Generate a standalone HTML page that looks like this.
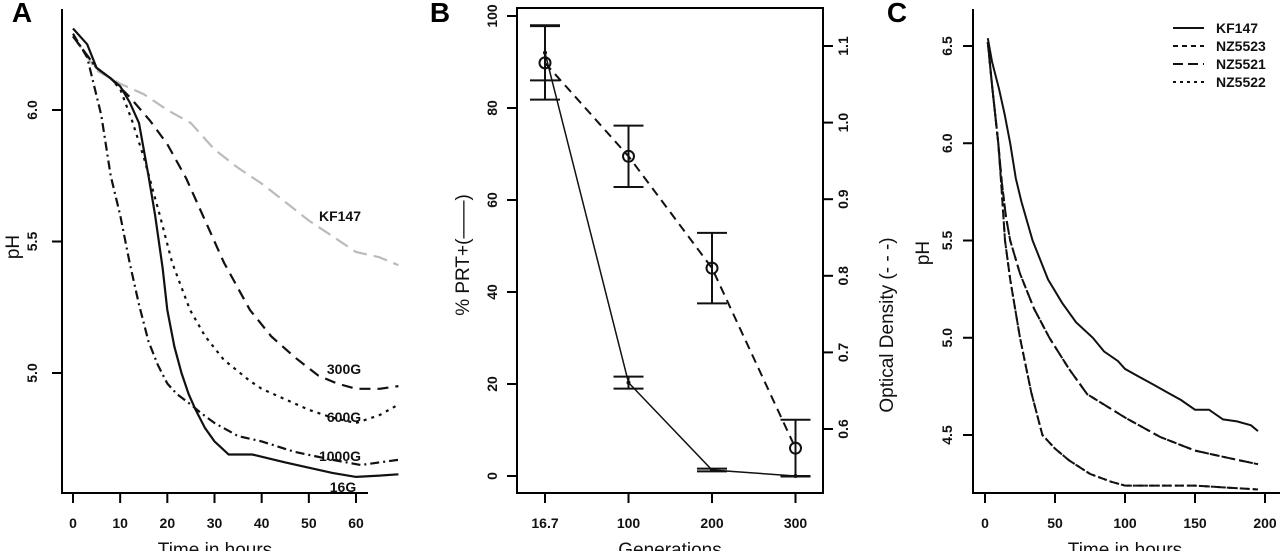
<!DOCTYPE html>
<html><head><meta charset="utf-8"><style>
html,body{margin:0;padding:0;background:#fff;}
svg{display:block;font-family:"Liberation Sans",Arial,sans-serif;}
.tk{font-size:14px;font-weight:bold;fill:#111;}
.tt{font-size:19px;fill:#111;}
.lb{font-size:14px;font-weight:bold;fill:#111;}
.pl{font-size:28px;font-weight:bold;fill:#000;}
</style></head><body>
<svg id="fig" width="1280" height="551" viewBox="0 0 1280 551" xmlns="http://www.w3.org/2000/svg"></svg>
<script>
// ---------- Panel A data ----------
const aTicksX = [0,10,20,30,40,50,60];
const aTicksY = [5.0,5.5,6.0];
const aKF147T = [0,5,10,15,20,25,30,35,40,45,50,55,60,65,69];
const aKF147V = [6.28,6.15,6.1,6.06,6.0,5.95,5.85,5.78,5.72,5.65,5.58,5.52,5.46,5.44,5.41];
const a300T = [0,5,8,12,16.3,20,24,28,32,37.5,42,47,52,56,60,65,69];
const a300V = [6.28,6.16,6.12,6.05,5.96,5.87,5.74,5.58,5.42,5.24,5.14,5.06,4.99,4.96,4.94,4.94,4.95];
const a600T = [0,5,8,10,12.5,15,18.4,21,24.8,28,32,37.5,40,45,50,55,60,65,69];
const a600V = [6.28,6.16,6.12,6.08,5.96,5.82,5.6,5.42,5.24,5.14,5.05,4.97,4.94,4.9,4.86,4.83,4.81,4.84,4.88];
const a1000T = [0,3,6,8,10,12,14,16,18,20,22,25,27,30,35,40,47,55,61,65,69];
const a1000V = [6.29,6.2,5.98,5.75,5.6,5.42,5.26,5.12,5.03,4.96,4.92,4.88,4.85,4.81,4.76,4.74,4.7,4.67,4.65,4.66,4.67];
const a16T = [0,3,5,8,10,12,14,16,17.4,19,20,21.5,23,24.5,26,28,30,33,38,45,50,55,60,65,69];
const a16V = [6.31,6.25,6.16,6.12,6.09,6.03,5.95,5.75,5.6,5.4,5.24,5.1,5.0,4.92,4.86,4.79,4.74,4.69,4.69,4.66,4.64,4.62,4.605,4.61,4.615];
// ---------- Panel B data ----------
const bCats = ["16.7","100","200","300"];
const bPRT = [92,20.3,1.3,0];
const bPRTErr = [6,1.3,0.3,0];
const bOD = [1.078,0.956,0.81,0.575];
const bODErr = [0.048,0.04,0.046,0.037];
const bTicksL = [0,20,40,60,80,100];
const bTicksR = [0.6,0.7,0.8,0.9,1.0,1.1];
// ---------- Panel C data ----------
const cTicksX = [0,50,100,150,200];
const cTicksY = [4.5,5.0,5.5,6.0,6.5];
const cKFT = [2,5,10,14,18,22,26,34,45,55,65,77,85,95,100,110,120,130,140,150,160,170,180,190,195];
const cKFV = [6.54,6.42,6.28,6.15,6.0,5.82,5.7,5.5,5.3,5.18,5.08,5.0,4.93,4.88,4.84,4.8,4.76,4.72,4.68,4.63,4.63,4.58,4.57,4.55,4.52];
const cMidT = [2,5,9.5,12,15,18,25,35,46,60,73,100,125,150,175,195];
const cMidV = [6.52,6.3,6.0,5.8,5.62,5.5,5.33,5.15,5.0,4.84,4.71,4.59,4.49,4.42,4.38,4.35];
const cLowT = [2,5,9.5,12,14.3,18,25,33,41,50,60,75,90,100,150,195];
const cLowV = [6.52,6.3,6.0,5.75,5.5,5.3,5.0,4.72,4.5,4.43,4.37,4.3,4.26,4.24,4.24,4.22];

const NS="http://www.w3.org/2000/svg";
const svg=document.getElementById('fig');
function mk(tag,attrs,parent){const e=document.createElementNS(NS,tag);for(const k in attrs)e.setAttribute(k,attrs[k]);(parent||svg).appendChild(e);return e;}
function txt(s,x,y,cls,extra){const t=mk('text',Object.assign({x:x,y:y,'class':cls,'text-anchor':'middle'},extra||{}));t.textContent=s;return t;}
function path(xs,ys,sx,sy){return xs.map((v,i)=>(i?'L':'M')+sx(v).toFixed(1)+','+sy(ys[i]).toFixed(1)).join(' ');}

// ===== Panel A =====
const ax=t=>73+t*(356-73)/60;
const ay=p=>110+(6-p)*263;
let e;
e=txt('A',22,22,'pl');

e=mk('path',{d:'M62,9 V493 H368',fill:'none',stroke:'#000','stroke-width':2});

aTicksX.forEach(t=>{mk('line',{x1:ax(t),x2:ax(t),y1:493,y2:503,stroke:'#000','stroke-width':2});
 e=txt(String(t),ax(t),528,'tk');});
aTicksY.forEach(p=>{mk('line',{x1:52,x2:62,y1:ay(p),y2:ay(p),stroke:'#000','stroke-width':2});
 e=txt(p.toFixed(1),0,0,'tk',{transform:`translate(37,${ay(p)}) rotate(-90)`});});
e=txt('pH',0,0,'tt',{transform:'translate(19,247) rotate(-90)'});

e=txt('Time in hours',215,556,'tt');

const aSeries=[[aKF147T,aKF147V,'#bbb','14,7','kf147-line'],[a300T,a300V,'#111','11,7','300g-line'],[a600T,a600V,'#111','3,5','600g-line'],[a1000T,a1000V,'#111','9,4,2,4','1000g-line'],[a16T,a16V,'#111','none','16g-line']];
aSeries.forEach(s=>{e=mk('path',{d:path(s[0],s[1],ax,ay),fill:'none',stroke:s[2],'stroke-width':2.2,'stroke-dasharray':s[3]});
 });
[['KF147',340,221],['300G',344,374],['600G',344,422],['1000G',340,461],['16G',343,492]].forEach(l=>{
 e=txt(l[0],l[1],l[2],'lb');});

// ===== Panel B =====
const bx=i=>545+i*83.5;
const byL=v=>476-v*4.6;
const byR=v=>46+(1.1-v)*766;
e=txt('B',440,22,'pl');

e=mk('rect',{x:517,y:8,width:306,height:485,fill:'none',stroke:'#000','stroke-width':2});

bCats.forEach((c,i)=>{mk('line',{x1:bx(i),x2:bx(i),y1:493,y2:503,stroke:'#000','stroke-width':2});
 e=txt(c,bx(i),528,'tk');});
bTicksL.forEach(v=>{mk('line',{x1:507,x2:517,y1:byL(v),y2:byL(v),stroke:'#000','stroke-width':2});
 e=txt(String(v),0,0,'tk',{transform:`translate(497,${byL(v)}) rotate(-90)`});});
bTicksR.forEach(v=>{mk('line',{x1:823,x2:833,y1:byR(v),y2:byR(v),stroke:'#000','stroke-width':2});
 e=txt(v.toFixed(1),0,0,'tk',{transform:`translate(848,${byR(v)}) rotate(-90)`});});
e=txt('% PRT+(——)',0,0,'tt',{transform:'translate(469,255) rotate(-90)'});

e=txt('Optical Density (- - -)',0,0,'tt',{transform:'translate(893,325) rotate(-90)'});

e=txt('Generations',670,556,'tt');

e=mk('path',{d:bOD.map((v,i)=>(i?'L':'M')+bx(i)+','+byR(v).toFixed(1)).join(' '),fill:'none',stroke:'#111','stroke-width':2,'stroke-dasharray':'9,6'});

e=mk('path',{d:bPRT.map((v,i)=>(i?'L':'M')+bx(i)+','+byL(v).toFixed(1)).join(' '),fill:'none',stroke:'#111','stroke-width':1.5});

bOD.forEach((v,i)=>{const x=bx(i),y1=byR(v+bODErr[i]),y2=byR(v-bODErr[i]);
 e=mk('path',{d:`M${x-15},${y1} H${x+15} M${x},${y1} V${y2} M${x-15},${y2} H${x+15}`,stroke:'#111','stroke-width':2,fill:'none'});
 
 e=mk('circle',{cx:x,cy:byR(v),r:5.5,fill:'none',stroke:'#111','stroke-width':2});
 });
bPRT.forEach((v,i)=>{const x=bx(i),y1=byL(v+bPRTErr[i]),y2=byL(v-bPRTErr[i]);
 e=mk('path',{d:`M${x-15},${y1} H${x+15} M${x},${y1} V${y2} M${x-15},${y2} H${x+15}`,stroke:'#111','stroke-width':2,fill:'none'});
 
 e=mk('circle',{cx:x,cy:byL(v),r:2,fill:'#111'});
 });

// ===== Panel C =====
const cx=t=>985+t*1.4;
const cy=p=>46+(6.5-p)*194.5;
e=txt('C',897,22,'pl');

e=mk('path',{d:'M973,9 V493 H1280',fill:'none',stroke:'#000','stroke-width':2});

cTicksX.forEach(t=>{mk('line',{x1:cx(t),x2:cx(t),y1:493,y2:503,stroke:'#000','stroke-width':2});
 e=txt(String(t),cx(t),528,'tk');});
cTicksY.forEach(p=>{mk('line',{x1:963,x2:973,y1:cy(p),y2:cy(p),stroke:'#000','stroke-width':2});
 e=txt(p.toFixed(1),0,0,'tk',{transform:`translate(952,${cy(p)}) rotate(-90)`});});
e=txt('pH',0,0,'tt',{transform:'translate(929,253) rotate(-90)'});

e=txt('Time in hours',1125,556,'tt');

const cSeries=[[cKFT,cKFV,'none','kf147-line'],[cMidT,cMidV,'5,4','nz5523-line'],[cMidT,cMidV,'10,5','nz5521-line'],[cLowT,cLowV,'3,3','nz5522-line'],[cLowT,cLowV,'9,4','nz5522b-line']];
cSeries.forEach(s=>{e=mk('path',{d:path(s[0],s[1],cx,cy),fill:'none',stroke:'#111','stroke-width':2,'stroke-dasharray':s[2]});
 });
const legNames=['KF147','NZ5523','NZ5521','NZ5522'];
const legDash=['none','5,4','10,5','3,4'];
legNames.forEach((n,i)=>{const y=28+i*18;
 e=mk('line',{x1:1173,x2:1204,y1:y,y2:y,stroke:'#111','stroke-width':2,'stroke-dasharray':legDash[i]});
 
 e=txt(n,1216,y+5,'lb',{'text-anchor':'start'});
 });
</script>
</body></html>
